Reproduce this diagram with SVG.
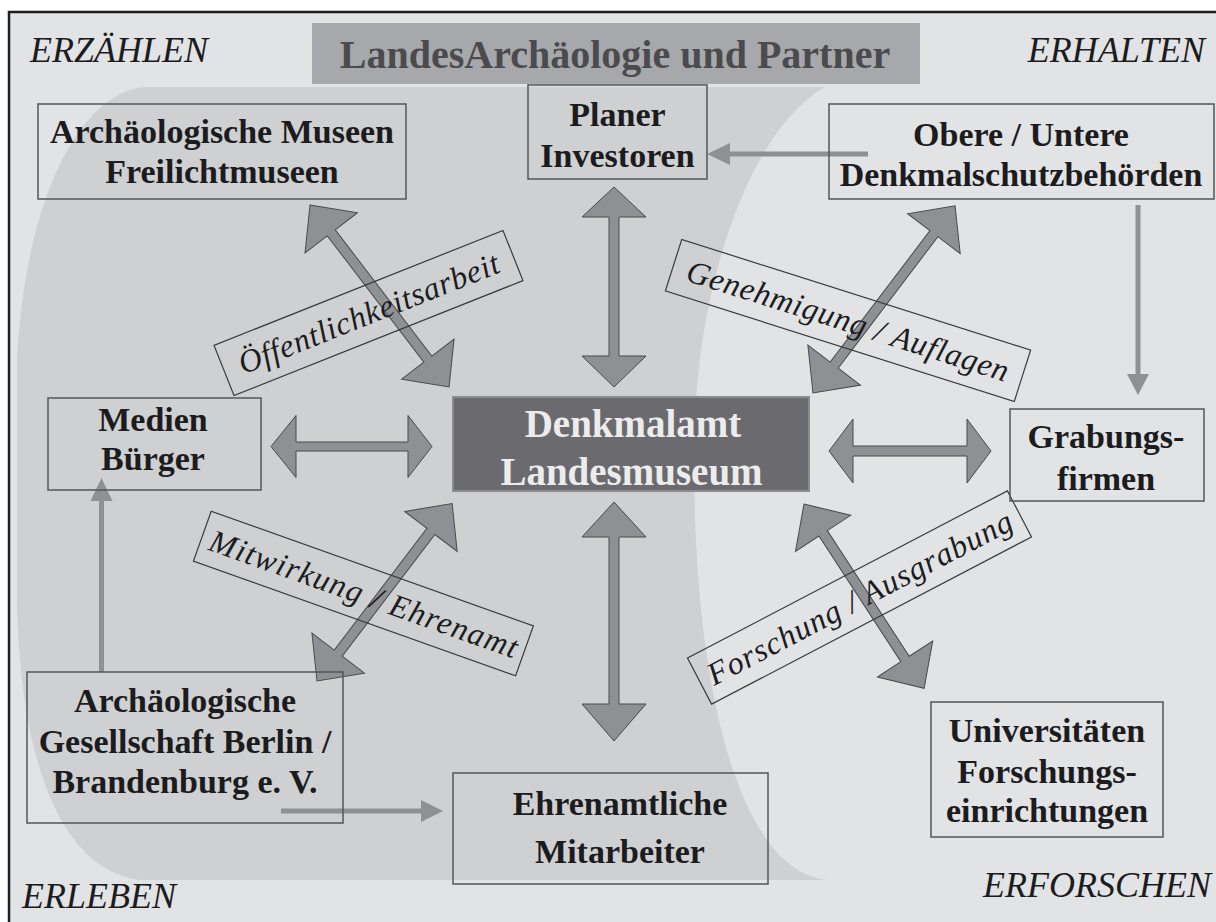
<svg xmlns="http://www.w3.org/2000/svg" width="1216" height="922" viewBox="0 0 1216 922">
  <defs>
    <style>
      .node { fill: none; stroke: #555558; stroke-width: 1.5; }
      .nt { font-family: "Liberation Serif", "Times New Roman", serif; font-weight: bold; font-size: 34px; fill: #1c1c1e; text-anchor: middle; }
      .corner { font-family: "Liberation Serif", "Times New Roman", serif; font-style: italic; font-size: 36px; fill: #1c1c1e; }
      .lab { fill: none; stroke: #3a3a3c; stroke-width: 1.2; }
      .lt { font-family: "Liberation Serif", "Times New Roman", serif; font-style: italic; font-size: 32px; fill: #1c1c1e; }
      .big { fill: #8f9094; stroke: #4a4a4d; stroke-width: 1; }
      .thin { stroke: #8f9093; stroke-width: 5; fill: none; }
      .thinhead { fill: #8f9093; }
    </style>
  </defs>

  <!-- background -->
  <rect x="0" y="0" width="1216" height="922" fill="#ffffff"/>
  <rect x="9" y="12" width="1230" height="930" fill="#e2e3e5" stroke="#1e1e20" stroke-width="2.5"/>
  <path d="M 147,87 L 825,87 C 750,130 700,280 695,420 C 688,650 730,870 827,880 L 140,880 C 60,870 20,760 17,600 L 17,360 C 25,200 80,90 147,87 Z" fill="#cfd0d2"/>

  <!-- title -->
  <g id="title">
    <rect x="312" y="23" width="608" height="61" fill="#a7a8ab"/>
    <text x="615" y="68" text-anchor="middle" font-family="Liberation Serif, Times New Roman, serif" font-weight="bold" font-size="40" fill="#4b4b4e">LandesArchäologie und Partner</text>
  </g>

  <!-- corner labels -->
  <text class="corner" x="30" y="62">ERZÄHLEN</text>
  <text class="corner" x="1205" y="62" text-anchor="end">ERHALTEN</text>
  <text class="corner" x="22" y="908">ERLEBEN</text>
  <text class="corner" x="1211" y="897" text-anchor="end">ERFORSCHEN</text>

  <!-- connectors -->
  <g id="connectors">
    <!-- thin gray arrows -->
    <line class="thin" x1="868" y1="154" x2="728" y2="154"/>
    <polygon class="thinhead" points="707,154 730,143 730,165"/>
    <line class="thin" x1="1138" y1="205" x2="1138" y2="376"/>
    <polygon class="thinhead" points="1138,395 1127,374 1149,374"/>
    <line class="thin" x1="101.5" y1="672" x2="101.5" y2="499"/>
    <polygon class="thinhead" points="101.5,478 90.5,501 112.5,501"/>
    <line class="thin" x1="281" y1="811" x2="423" y2="811"/>
    <polygon class="thinhead" points="443,811 421,800 421,822"/>

    <!-- big double arrows -->
    <polygon class="big" points="614,187 646,217 619,217 619,356 646,356 614,387 582,356 609,356 609,217 582,217"/>
    <polygon class="big" points="614,502 646,537 619,537 619,704 646,704 614,741 582,704 609,704 609,537 582,537"/>
    <polygon class="big" points="271,446.5 296,415.5 296,442 408,442 408,415.5 432,446.5 408,477.5 408,451 296,451 296,477.5"/>
    <polygon class="big" points="829,451 853,419 853,446 967,446 967,419 991,451 967,483 967,456 853,456 853,483"/>
    <polygon class="big" transform="translate(310 205) rotate(52.6)" points="0,0 35,-33 35,-5 194,-5 194,-33 229,0 194,33 194,5 35,5 35,33"/>
    <polygon class="big" transform="translate(813 393) rotate(-52.8)" points="0,0 35,-33 35,-5 200,-5 200,-33 235,0 200,33 200,5 35,5 35,33"/>
    <polygon class="big" transform="translate(317 681) rotate(-52.7)" points="0,0 35,-33 35,-5 188,-5 188,-33 223,0 188,33 188,5 35,5 35,33"/>
    <polygon class="big" transform="translate(804 504) rotate(56.9)" points="0,0 35,-33 35,-5 185,-5 185,-33 220,0 185,33 185,5 35,5 35,33"/>

    <!-- connector labels -->
    <g transform="translate(368.5 313) rotate(-21.7)">
      <rect class="lab" x="-155.5" y="-27" width="311" height="54"/>
      <text class="lt" x="-139" y="11" textLength="278" lengthAdjust="spacing">Öffentlichkeitsarbeit</text>
    </g>
    <g transform="translate(848 320.5) rotate(17.6)">
      <rect class="lab" x="-183" y="-27" width="366" height="54"/>
      <text class="lt" x="-168" y="11" textLength="336" lengthAdjust="spacing">Genehmigung / Auflagen</text>
    </g>
    <g transform="translate(363.4 593.5) rotate(19.6)">
      <rect class="lab" x="-171" y="-26.5" width="342" height="53"/>
      <text class="lt" x="-162" y="11" textLength="325" lengthAdjust="spacing">Mitwirkung / Ehrenamt</text>
    </g>
    <g transform="translate(859.5 597.5) rotate(-27.6)">
      <rect class="lab" x="-180.5" y="-26" width="361" height="52"/>
      <text class="lt" x="-170" y="11" textLength="340" lengthAdjust="spacing">Forschung / Ausgrabung</text>
    </g>
  </g>

  <!-- nodes -->
  <g id="museen">
    <rect class="node" x="38" y="104" width="368" height="95"/>
    <text class="nt" x="222" y="143">Archäologische Museen</text>
    <text class="nt" x="222" y="183">Freilichtmuseen</text>
  </g>
  <g id="planer">
    <rect class="node" x="528" y="85" width="179" height="94"/>
    <text class="nt" x="617.5" y="126">Planer</text>
    <text class="nt" x="617.5" y="167">Investoren</text>
  </g>
  <g id="behoerden">
    <rect class="node" x="829" y="104" width="385" height="95"/>
    <text class="nt" x="1021" y="146">Obere / Untere</text>
    <text class="nt" x="1021" y="186">Denkmalschutzbehörden</text>
  </g>
  <g id="medien">
    <rect class="node" x="48" y="398" width="213" height="92"/>
    <text class="nt" x="153" y="431">Medien</text>
    <text class="nt" x="153" y="470">Bürger</text>
  </g>
  <g id="denkmalamt">
    <rect x="453" y="397" width="356" height="94" fill="#6b6b6f" stroke="#8c8c90" stroke-width="2"/>
    <text x="633" y="437" text-anchor="middle" font-family="Liberation Serif, Times New Roman, serif" font-weight="bold" font-size="39" fill="#ececec">Denkmalamt</text>
    <text x="631.5" y="485" text-anchor="middle" font-family="Liberation Serif, Times New Roman, serif" font-weight="bold" font-size="39" fill="#ececec">Landesmuseum</text>
  </g>
  <g id="grabungsfirmen">
    <rect class="node" x="1010" y="409" width="194" height="92"/>
    <text class="nt" x="1106" y="448">Grabungs-</text>
    <text class="nt" x="1106" y="490">firmen</text>
  </g>
  <g id="gesellschaft">
    <rect class="node" x="27" y="672" width="316" height="151"/>
    <text class="nt" x="185" y="712">Archäologische</text>
    <text class="nt" x="185" y="753">Gesellschaft Berlin /</text>
    <text class="nt" x="185" y="793">Brandenburg e. V.</text>
  </g>
  <g id="ehrenamtliche">
    <rect class="node" x="453" y="773" width="315" height="111"/>
    <text class="nt" x="620" y="815">Ehrenamtliche</text>
    <text class="nt" x="620" y="863">Mitarbeiter</text>
  </g>
  <g id="universitaeten">
    <rect class="node" x="931" y="702" width="232" height="135"/>
    <text class="nt" x="1047" y="742">Universitäten</text>
    <text class="nt" x="1047" y="783">Forschungs-</text>
    <text class="nt" x="1047" y="822">einrichtungen</text>
  </g>
</svg>
